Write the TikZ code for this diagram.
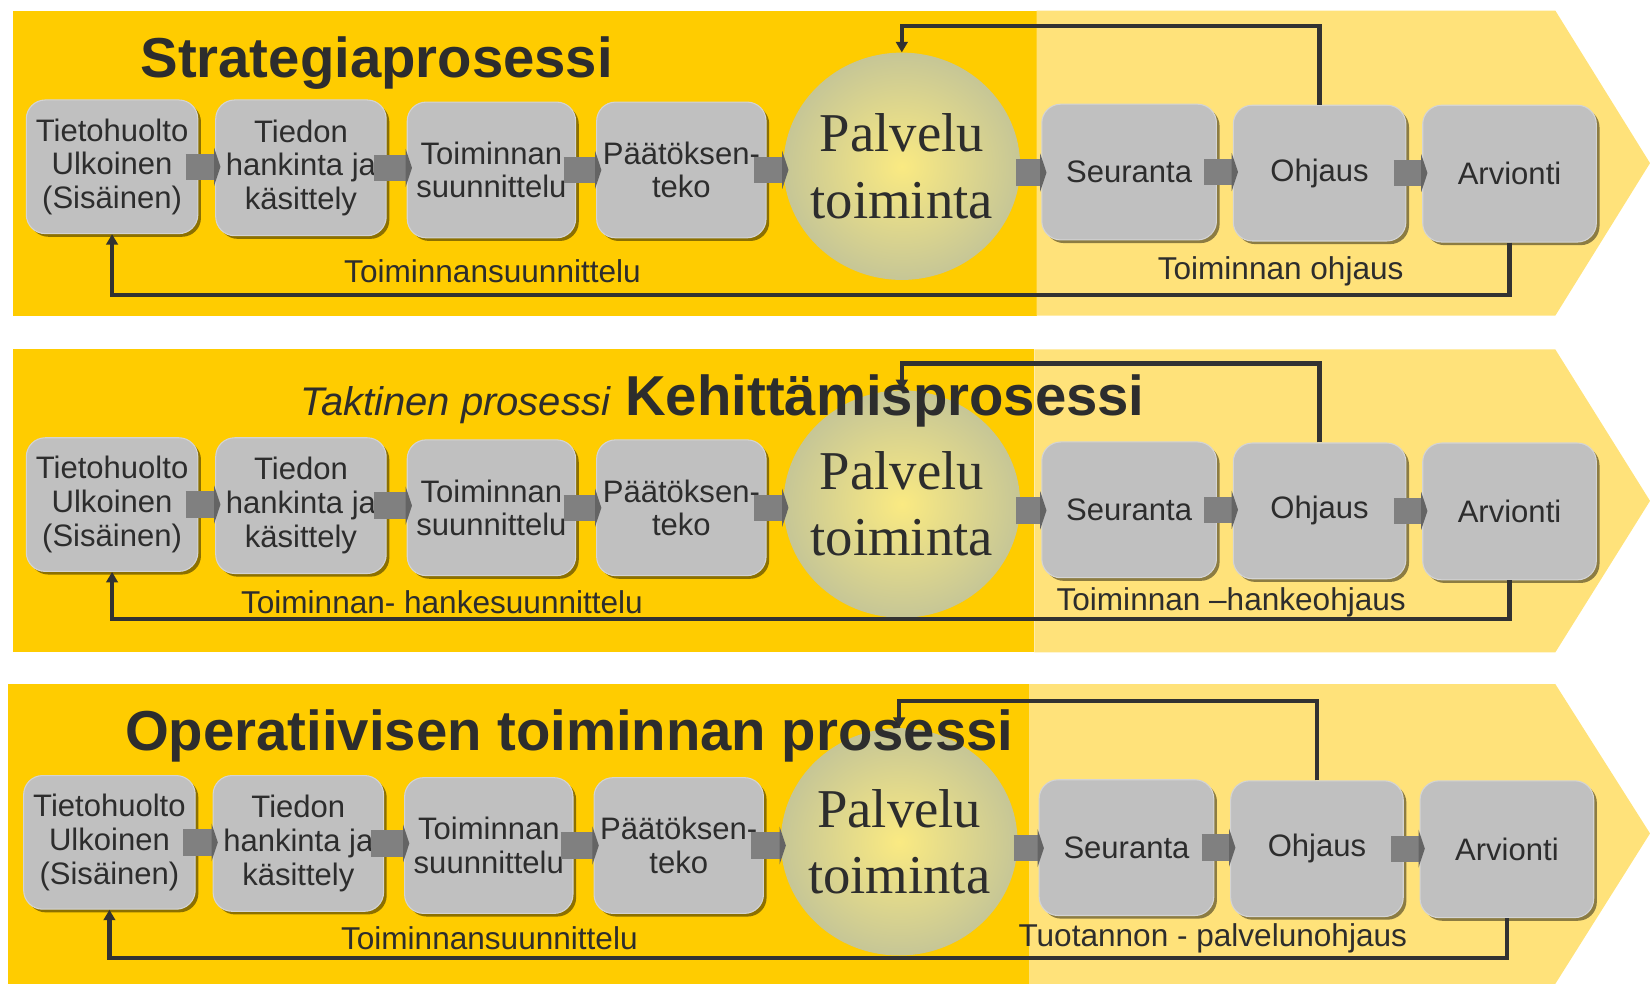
\documentclass[tikz,border=0pt]{standalone}
\usepackage{fontspec}
\setmainfont{Liberation Sans}
\newfontfamily\seriffam{Liberation Serif}
\usetikzlibrary{shapes.geometric,arrows.meta,shadows,calc}
\definecolor{darkyel}{RGB}{255,204,0}
\definecolor{lightyel}{RGB}{255,226,122}
\definecolor{boxgray}{RGB}{192,192,192}
\definecolor{boxrim}{RGB}{212,212,212}
\definecolor{blkgray}{RGB}{128,128,128}
\definecolor{tipgray}{RGB}{100,100,100}
\definecolor{txt}{RGB}{45,45,45}
\definecolor{elin}{RGB}{250,234,130}
\definecolor{elout}{RGB}{198,198,150}
\definecolor{fbcol}{RGB}{50,50,50}
\tikzset{
 procbox/.style={draw=boxrim, line width=1pt, fill=boxgray, rounded corners=18pt, align=center, text=txt,
   font=\fontsize{29.5}{32}\selectfont, inner sep=0pt,
   drop shadow={shadow xshift=3pt, shadow yshift=-3pt, opacity=0.45, fill=black}},
 palv/.style={ellipse, inner color=elin, outer color=elout, inner sep=0pt, minimum width=225pt, minimum height=216pt},
 palvtext/.style={align=center, text=txt, font=\seriffam\fontsize{52}{63}\selectfont, inner sep=0pt},
 blkarrow/.style={line width=25pt, draw=blkgray, -{Triangle[length=6pt,width=36pt,fill=tipgray,color=tipgray]}},
 fb/.style={line width=4pt, draw=fbcol, -{Triangle[length=10pt,width=11pt]}},
 lbl/.style={text=txt, font=\fontsize{30}{32}\selectfont, inner sep=0pt},
 ttl/.style={text=txt, font=\fontsize{53.5}{60}\selectfont\bfseries, inner sep=0pt},
 ttlit/.style={text=txt, font=\fontsize{38}{42}\selectfont\itshape, inner sep=0pt},
}
% #1 prefix, #2 x shift, #3 y shift, #4 bottom drop, #5 left label x, #6 left label,
% #7 right label x, #8 right label, #9 label y
\newcommand{\procrow}[9]{%
\begin{scope}[shift={(#2,#3)}]
 \node[procbox, minimum width=163pt, minimum height=127pt] (#1b1) at (106.5,158.5) {Tietohuolto\\Ulkoinen\\(Sisäinen)};
 \node[procbox, minimum width=162pt, minimum height=129pt] (#1b2) at (286,159.5) {Tiedon\\hankinta ja\\käsittely};
 \node[procbox, minimum width=160pt, minimum height=129pt] (#1b3) at (467,161.5) {Toiminnan\\suunnittelu};
 \node[procbox, minimum width=161pt, minimum height=129pt] (#1b4) at (647.5,161.5) {Päätöksen-\\teko};
 \node[palv] (#1el) at (857,158) {};
 \node[palvtext] (#1elt) at (#1el.center) {Palvelu\\toiminta};
 \node[procbox, minimum width=166pt, minimum height=129pt] (#1b5) at (1073,163.5) {Seuranta};
 \node[procbox, minimum width=164pt, minimum height=129pt] (#1b6) at (1254,164.5) {Ohjaus};
 \node[procbox, minimum width=165pt, minimum height=130pt] (#1b7) at (1434.5,165) {Arvionti};
 \draw[blkarrow] ($(#1b1.east)+(-12,0)$) -- ($(#1b1.east -| #1b2.west)+(5,0)$);
 \draw[blkarrow] ($(#1b2.east)+(-12,0)$) -- ($(#1b2.east -| #1b3.west)+(5,0)$);
 \draw[blkarrow] ($(#1b3.east)+(-12,0)$) -- ($(#1b3.east -| #1b4.west)+(5,0)$);
 \draw[blkarrow] ($(#1b4.east)+(-12,0)$) -- ($(#1b4.east -| #1el.west)+(5,0)$);
 \coordinate (#1e) at ($(#1el.east)+(-4,6)$);
 \draw[blkarrow] (#1e) -- ($(#1e -| #1b5.west)+(5,0)$);
 \draw[blkarrow] ($(#1b5.east)+(-12,0)$) -- ($(#1b5.east -| #1b6.west)+(5,0)$);
 \draw[blkarrow] ($(#1b6.east)+(-12,0)$) -- ($(#1b6.east -| #1b7.west)+(5,0)$);
 \draw[fb] (#1b7.south) -- ++(0,#4) -| (#1b1.south);
 \draw[fb] (#1b6.north) -- ++(0,-75) -| (#1el.north);
 \node[lbl] (#1ll) at (#5,#9) {#6};
 \node[lbl] (#1lr) at (#7,#9) {#8};
\end{scope}}
\begin{document}
\begin{tikzpicture}[x=1pt,y=-1pt]
\useasboundingbox (0,0) rectangle (1568,935);
% bands
\fill[darkyel] (12,10) rectangle (985,300);
\fill[lightyel] (985,10) -- (1478,10) -- (1568,155) -- (1478,300) -- (985,300) -- cycle;
\fill[darkyel] (12,332) rectangle (983,620);
\fill[lightyel] (983,332) -- (1478,332) -- (1568,476) -- (1478,620) -- (983,620) -- cycle;
\fill[darkyel] (8,650) rectangle (978,935);
\fill[lightyel] (978,650) -- (1478,650) -- (1568,792) -- (1478,935) -- (978,935) -- cycle;
% rows
\procrow{a}{0}{0}{50}{468}{Toiminnansuunnittelu}{1217}{Toiminnan ohjaus}{258}
\procrow{b}{0}{321}{37}{420}{Toiminnan- hankesuunnittelu}{1170}{Toiminnan –hankeohjaus}{251}
\procrow{c}{-2.5}{642}{38}{467.5}{Toiminnansuunnittelu}{1155}{Tuotannon - palvelunohjaus}{250}
% titles
\node[ttl, anchor=base] (t1) at (358,74) {Strategiaprosessi};
\node[ttl, anchor=base west] (t2) at (594,395) {Kehittämisprosessi};
\node[ttlit, anchor=base east] (t2i) at (580,395) {Taktinen prosessi};
\node[ttl, anchor=base] (t3) at (541,713) {Operatiivisen toiminnan prosessi};
\end{tikzpicture}
\end{document}
